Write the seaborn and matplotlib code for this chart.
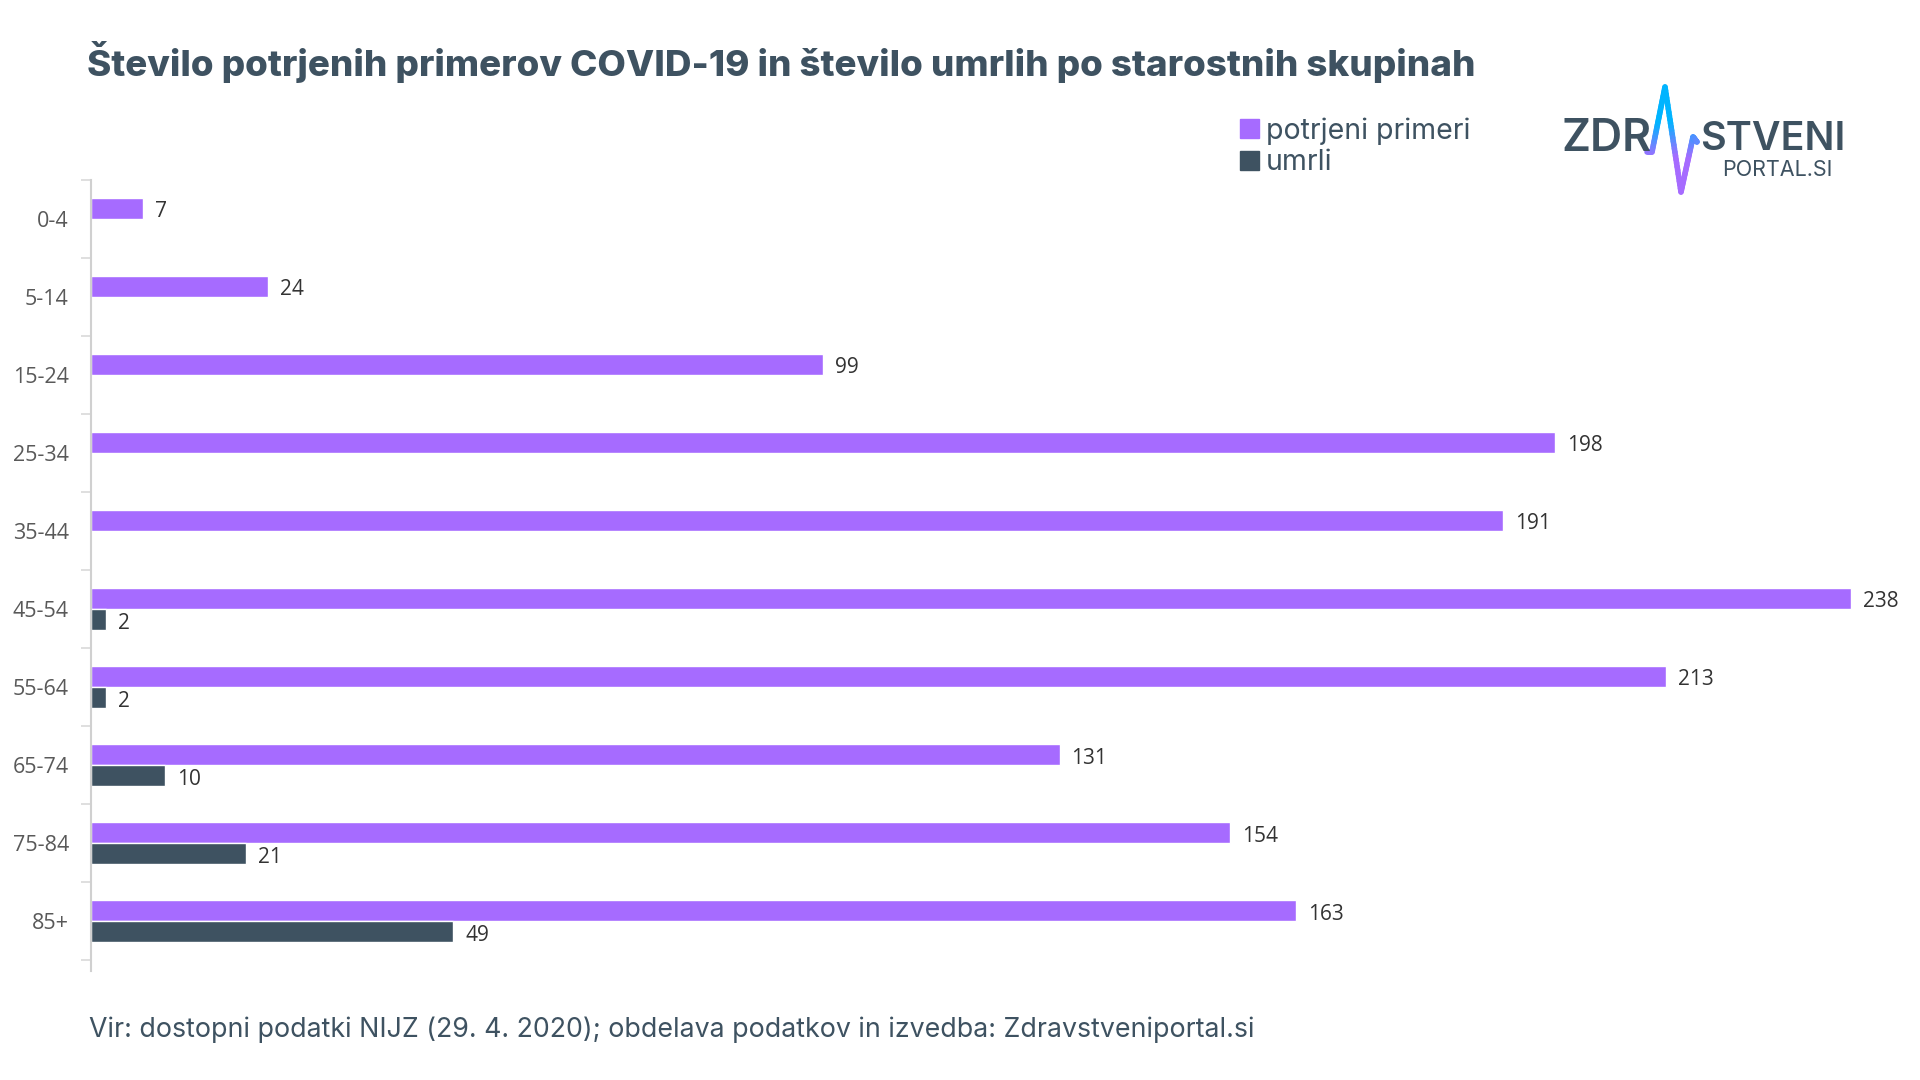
import numpy as np
import pandas as pd
import matplotlib.pyplot as plt
import seaborn as sns
from matplotlib.collections import LineCollection
from matplotlib.colors import LinearSegmentedColormap
from matplotlib.patches import Patch

age_groups = ["0-4", "5-14", "15-24", "25-34", "35-44", "45-54", "55-64", "65-74", "75-84", "85+"]
potrjeni = [7, 24, 99, 198, 191, 238, 213, 131, 154, 163]
umrli = [np.nan, np.nan, np.nan, np.nan, np.nan, 2, 2, 10, 21, 49]

TITLE = "Število potrjenih primerov COVID-19 in število umrlih po starostnih skupinah"
SOURCE = "Vir: dostopni podatki NIJZ (29. 4. 2020); obdelava podatkov in izvedba: Zdravstveniportal.si"

PURPLE = "#A66BFF"
DARK = "#3E5261"
W, H = 1920, 1080

sns.set_theme(style="white")
plt.rcParams["font.family"] = ["Open Sans", "DejaVu Sans"]

df = pd.DataFrame({
    "skupina": age_groups * 2,
    "vrsta": ["potrjeni primeri"] * len(age_groups) + ["umrli"] * len(age_groups),
    "stevilo": potrjeni + umrli,
})

fig = plt.figure(figsize=(19.2, 10.8), dpi=100)
# axes box in pixels: left 91, right 1910, top 180, bottom 971
ax = fig.add_axes([91 / W, 1 - 971 / H, (1910 - 91) / W, (971 - 180) / H])

sns.barplot(
    data=df, y="skupina", x="stevilo", hue="vrsta", orient="y",
    palette={"potrjeni primeri": PURPLE, "umrli": DARK},
    width=0.54, gap=0, saturation=1, errorbar=None, legend=False, ax=ax,
)

for container in ax.containers:
    for label in ax.bar_label(container, padding=8.5, fontsize=15, color="#333333", family="Open Sans"):
        x_off, y_off = label.xyann
        label.xyann = (x_off, y_off - 2.5)

ax.set_xlim(0, (1910 - 91) / 7.395)
ax.set_ylim(9.64, -0.5)
ax.set_xlabel("")
ax.set_ylabel("")
ax.xaxis.set_visible(False)

for side in ["top", "right", "bottom"]:
    ax.spines[side].set_visible(False)
ax.spines["left"].set_color("#D0D0D0")
ax.spines["left"].set_linewidth(1.5)

ax.tick_params(axis="y", which="major", length=0, pad=16, labelsize=15.5, labelcolor="#595959")
ax.set_yticks(np.arange(-0.5, 10, 1), minor=True)
ax.tick_params(axis="y", which="minor", left=True, length=7, width=1.2, color="#D9D9D9")

# overlay in pixel coords for title, footer and logo
ov = fig.add_axes([0, 0, 1, 1], facecolor="none")
ov.set_xlim(0, W)
ov.set_ylim(H, 0)
ov.axis("off")

ov.text(87, 62, TITLE, fontsize=26.5, fontweight="heavy", color=DARK, family="Inter", va="center", ha="left")
ov.text(89, 1030, SOURCE, fontsize=19.27, color=DARK, family="Inter", va="center", ha="left")

handles = [Patch(color=PURPLE, label="potrjeni primeri"), Patch(color=DARK, label="umrli")]
ov.legend(
    handles=handles, loc="upper left", bbox_to_anchor=(1240 / W, 1 - 117 / H), frameon=False,
    handlelength=0.65, handleheight=0.65, handletextpad=0.25, labelspacing=0.17,
    prop={"family": "Inter", "size": 20.5}, labelcolor=DARK, borderpad=0, borderaxespad=0,
)

# logo
ov.text(1562, 139, "ZDR", fontsize=32, color=DARK, family="Inter", fontweight="semibold", va="center", ha="left")
ov.text(1700, 139, "STVENI", fontsize=28.4, color=DARK, family="Inter", fontweight="semibold", va="center", ha="left")
ov.text(1722, 170, "PORTAL.SI", fontsize=15.5, color=DARK, family="Inter", va="center", ha="left")

logo_x = [1647, 1652, 1665, 1681, 1693, 1697]
logo_y = [152, 152, 87, 192, 137, 142]
xs = np.concatenate([np.linspace(logo_x[i], logo_x[i + 1], 30) for i in range(len(logo_x) - 1)])
ys = np.concatenate([np.linspace(logo_y[i], logo_y[i + 1], 30) for i in range(len(logo_y) - 1)])
points = np.column_stack([xs, ys]).reshape(-1, 1, 2)
segments = np.concatenate([points[:-1], points[1:]], axis=1)
cmap = LinearSegmentedColormap.from_list("logo", ["#00B4FF", "#00B4FF", PURPLE, PURPLE])
line = LineCollection(segments, cmap=cmap, linewidths=4, capstyle="round")
line.set_array((ys[:-1] - 87) / (192 - 87))
ov.add_collection(line)

fig.savefig("out.png", dpi=100)
